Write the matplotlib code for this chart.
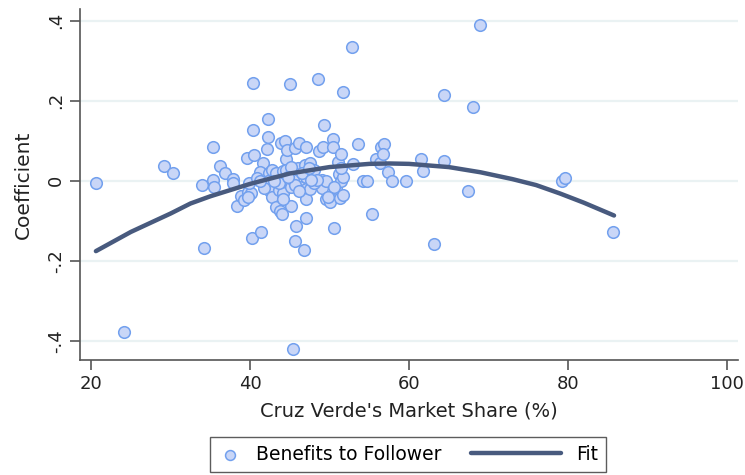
import matplotlib
matplotlib.use("Agg")
from matplotlib import pyplot as plt
from matplotlib.legend_handler import HandlerLine2D

# market share (%) and coefficient
share = [20.6, 24.1, 29.2, 30.3, 34.0, 34.2, 35.3, 35.4, 35.3, 36.2,
         36.9, 37.9, 37.8, 38.4, 38.9, 39.2, 39.6, 39.7, 40.1, 39.9,
         40.4, 40.4, 40.5, 40.3, 41.4, 41.6, 41.2, 40.9, 42.1, 42.2,
         42.2, 42.4, 42.3, 42.5, 42.8, 42.8, 43.2, 43.2, 43.6, 43.8,
         44.0, 43.9, 44.4, 44.1, 44.2, 44.5, 44.7, 44.8, 45.0, 45.1,
         45.1, 45.4, 45.6, 45.7, 45.8, 46.0, 46.1, 46.3, 45.4, 46.8,
         46.9, 47.0, 47.0, 47.1, 47.1, 47.1, 47.5, 47.6, 48.1, 48.6,
         48.7, 49.0, 49.0, 49.2, 49.3, 49.6, 49.6, 50.0, 50.4, 50.4,
         50.6, 50.8, 51.1, 51.2, 51.3, 51.4, 51.5, 51.7, 51.7, 52.8,
         52.9, 53.6, 54.2, 54.7, 55.4, 55.9, 56.3, 56.5, 56.8, 56.7,
         57.4, 57.8, 59.6, 61.5, 61.7, 63.2, 64.4, 64.4, 67.4, 68.0,
         68.9, 79.3, 79.6, 85.7,
         41.8, 43.6, 44.5, 45.2, 46.5, 47.4, 48.0, 45.7, 44.2, 39.7,
         41.2, 43.0, 44.8, 48.4, 50.5, 51.4, 46.2, 47.7, 49.8, 51.7]
coef = [-0.005, -0.378, 0.037, 0.019, -0.012, -0.168, 0.002, -0.015, 0.083, 0.037,
        0.018, 0.005, -0.007, -0.063, -0.038, -0.048, 0.057, -0.028, -0.030, -0.005,
        0.243, 0.126, 0.064, -0.144, -0.129, 0.045, 0.022, 0.006, 0.078, 0.153,
        0.109, 0.018, -0.002, -0.026, 0.027, -0.042, 0.018, -0.065, -0.023, -0.075,
        -0.082, 0.095, 0.098, 0.023, -0.032, 0.054, 0.077, 0.002, 0.242, -0.062,
        -0.015, 0.002, -0.150, 0.081, -0.113, 0.031, 0.093, -0.015, -0.421, -0.173,
        0.039, 0.010, -0.020, -0.046, 0.085, -0.094, 0.043, -0.022, 0.027, 0.254,
        0.073, 0.002, -0.018, 0.085, 0.140, 0.000, -0.047, -0.053, 0.104, 0.085,
        -0.118, -0.022, 0.046, 0.017, -0.043, 0.067, -0.002, 0.222, 0.010, 0.335,
        0.042, 0.092, 0.000, 0.000, -0.082, 0.053, 0.043, 0.085, 0.092, 0.066,
        0.022, 0.000, 0.000, 0.053, 0.025, -0.158, 0.213, 0.048, -0.025, 0.183,
        0.389, 0.000, 0.006, -0.129,
        -0.019, -0.005, 0.027, 0.035, 0.018, 0.031, -0.005, -0.011, -0.047, -0.040,
        -0.002, -0.002, 0.010, 0.002, -0.015, 0.031, -0.027, 0.002, -0.040, -0.036]

# fitted curve
fit_x = [20.6, 25, 30, 32.5, 35, 40, 45, 50, 55, 57.5, 60, 65, 69, 73, 76, 79, 82, 85.8]
fit_y = [-0.176, -0.128, -0.082, -0.057, -0.039, -0.008, 0.018, 0.034, 0.042, 0.043,
         0.042, 0.034, 0.021, 0.004, -0.011, -0.032, -0.055, -0.087]

xticks = [20, 40, 60, 80, 100]
yticks = [-0.4, -0.2, 0, 0.2, 0.4]
ytick_labels = ["-.4", "-.2", "0", ".2", ".4"]


# legend line key is longer than the marker key, stretch it to the left
class LongLine(HandlerLine2D):
    def create_artists(self, legend, orig_handle, xdescent, ydescent,
                       width, height, fontsize, trans):
        return super().create_artists(legend, orig_handle, xdescent + 3 * width,
                                      ydescent, 4 * width, height, fontsize, trans)


plt.rcParams["font.family"] = ["DejaVu Sans"]

fig = plt.figure(figsize=(7.45, 4.75), dpi=100)
ax = fig.add_axes([0.1074, 0.2421, 0.8832, 0.739])

pts = ax.scatter(share, coef, s=70, color="#c9d6f7", edgecolor="#72a0ee",
                 linewidth=1.1, zorder=3, label="Benefits to Follower")
fit, = ax.plot(fit_x, fit_y, color="#485a7e", linewidth=3.2, solid_capstyle="round",
               zorder=4, label="Fit")

ax.set_xlim(18.6, 101.4)
ax.set_ylim(-0.448, 0.429)
ax.set_xticks(xticks)
ax.set_yticks(yticks)
ax.set_yticklabels(ytick_labels, rotation=90, va="center")
ax.tick_params(axis="both", direction="out", length=7, width=1.2,
               color="#555555", labelsize=13, labelcolor="#222222", pad=4)
ax.grid(axis="y", color="#eaf2f3", linewidth=1.6, zorder=0)
ax.set_axisbelow(True)

for side in ["top", "right"]:
    ax.spines[side].set_visible(False)
for side in ["left", "bottom"]:
    ax.spines[side].set_color("#555555")
    ax.spines[side].set_linewidth(1.2)

ax.set_xlabel("Cruz Verde's Market Share (%)", fontsize=14, color="#222222", labelpad=6)
ax.set_ylabel("Coefficient", fontsize=14.5, color="#222222", labelpad=10)

leg = ax.legend([pts, fit], ["Benefits to Follower", "Fit"],
                handler_map={fit: LongLine()}, scatterpoints=1, markerscale=0.85,
                loc="upper center", bbox_to_anchor=(0.499, -0.219), borderaxespad=0,
                ncol=2, frameon=True, fancybox=False, fontsize=13.5,
                handlelength=1.2, columnspacing=5.2, borderpad=0.42,
                handletextpad=0.8)
leg.get_frame().set_edgecolor("#333333")
leg.get_frame().set_linewidth(1.0)

fig.savefig("out.png", dpi=100)
